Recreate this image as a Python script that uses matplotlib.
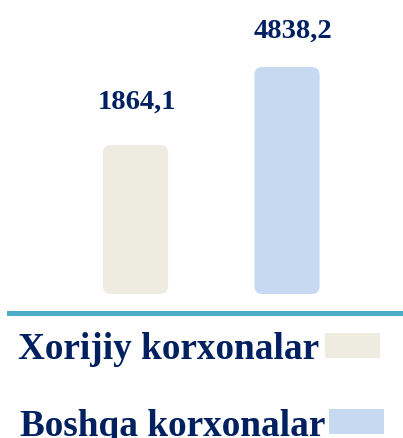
import numpy as np
import matplotlib
matplotlib.use("Agg")
import matplotlib.pyplot as plt
from matplotlib.patches import FancyBboxPatch, Rectangle

# data
categories = ["Xorijiy korxonalar", "Boshqa korxonalar"]
values = np.array([1864.1, 4838.2])
value_labels = ["1864,1", "4838,2"]
colors = ["#EEECE1", "#C6D9F1"]
text_color = "#002060"

W, H = 403, 439
fig = plt.figure(figsize=(W / 100, H / 100), dpi=100)

# axes covers the area above the teal line, bar base at 295 px from top
base_px = 295
ax = fig.add_axes([0, (H - base_px) / H, 1, base_px / H])
ax.axis("off")

# value axis starts below zero (bars are not drawn from zero in the original)
y_base = -3808.0
y_per_px = (values[1] - y_base) / 227.0
x_per_px = 1 / 151.5
ax.set_ylim(y_base, y_base + base_px * y_per_px)
ax.set_xlim(-135.5 * x_per_px, -135.5 * x_per_px + W * x_per_px)

x = np.arange(len(values))
bars = ax.bar(x, values - y_base, bottom=y_base, width=0.43, color=colors)

# swap the plain rectangles for rounded ones
aspect = y_per_px / x_per_px
for b, c in zip(bars, colors):
    b.set_visible(False)
    rb = FancyBboxPatch((b.get_x(), b.get_y()), b.get_width(), b.get_height(),
                        boxstyle="round,pad=0,rounding_size=%f" % (8 * x_per_px),
                        mutation_aspect=aspect, facecolor=c, edgecolor="none")
    ax.add_patch(rb)

# value labels
offsets = [(1, 27), (4, 21.5)]
for xi, v, lab, off in zip(x, values, value_labels, offsets):
    ax.annotate(lab, (xi, v), xytext=off, textcoords="offset points",
                ha="center", va="baseline", fontsize=20.5, fontweight="bold",
                family="Liberation Serif", color=text_color)

# teal separator line
fig.add_artist(Rectangle((7 / W, 1 - 317 / H), 1, 5 / H, transform=fig.transFigure,
                         facecolor="#4BACC6", edgecolor="none"))

# legend rows
rows = [(18, 359, 325, 334), (20, 436, 329, 410)]
for cat, c, (tx, ty, sx, sy) in zip(categories, colors, rows):
    fig.text(tx / W, 1 - ty / H, cat, ha="left", va="baseline", fontsize=26.8,
             fontweight="bold", family="Liberation Serif", color=text_color)
    fig.add_artist(Rectangle((sx / W, 1 - (sy + 25) / H), 55 / W, 25 / H,
                             transform=fig.transFigure, facecolor=c, edgecolor="none"))

fig.savefig("out.png", dpi=100)
